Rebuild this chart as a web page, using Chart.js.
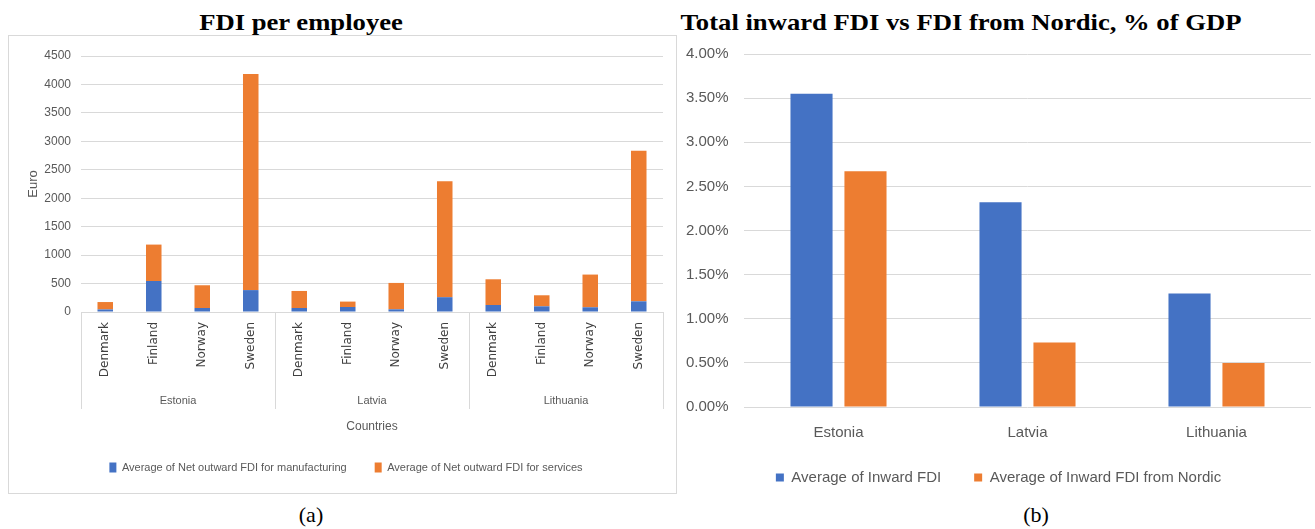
<!DOCTYPE html>
<html>
<head>
<meta charset="utf-8">
<script src="https://cdn.jsdelivr.net/npm/chart.js@4.4.1/dist/chart.umd.min.js"></script>
<style>
    body { margin: 0; background: #fff; width: 1315px; height: 529px; position: relative; overflow: hidden; }
    .titulo { position: absolute; font-family: "Liberation Serif", "Times New Roman", serif; font-weight: bold; font-size: 24px; color: #000; white-space: nowrap; transform: translateX(-50%) scaleX(1.11); }
    .legenda { position: absolute; font-family: "Liberation Serif", "Times New Roman", serif; font-size: 22px; color: #000; transform: translateX(-50%); }
    #boxA { position: absolute; left: 8px; top: 35px; width: 669px; height: 459px; border: 1px solid #d9d9d9; box-sizing: border-box; }
    #boxB { position: absolute; left: 677px; top: 36px; width: 638px; height: 459px; }
</style>
</head>
<body>
<div class="titulo" style="left:301px; top:9px;">FDI per employee</div>
<div class="titulo" style="left:961px; top:9px;">Total inward FDI vs FDI from Nordic, % of GDP</div>

<div id="boxA"><canvas id="fdiEmpregado" width="667" height="457"></canvas></div>
<div id="boxB"><canvas id="fdiNordico" width="638" height="459"></canvas></div>

<div class="legenda" style="left:311px; top:502px;">(a)</div>
<div class="legenda" style="left:1036px; top:502px;">(b)</div>

<script>
// dados do grafico (a)
const paisesDestino = ['Denmark', 'Finland', 'Norway', 'Sweden',
                       'Denmark', 'Finland', 'Norway', 'Sweden',
                       'Denmark', 'Finland', 'Norway', 'Sweden'];
const grupos = ['Estonia', 'Latvia', 'Lithuania'];
const manufatura = [45, 545, 70, 385, 70, 88, 47, 260, 123, 100, 83, 188];
const servicos = [130, 640, 400, 3800, 300, 95, 464, 2040, 452, 194, 575, 2646];
const ticksEuro = [0, 500, 1000, 1500, 2000, 2500, 3000, 3500, 4000, 4500];

// dados do grafico (b)
const paisesBalticos = ['Estonia', 'Latvia', 'Lithuania'];
const inwardTotal = [3.55, 2.32, 1.285];
const inwardNordic = [2.67, 0.73, 0.50];

const AZUL = '#4472C4';
const LARANJA = '#ED7D31';
const CINZA = '#595959';
const GRADE = '#d9d9d9';
const fonte = '"Liberation Sans", Arial, sans-serif';

// linhas verticais que separam os grupos de paises
const separadores = {
    id: 'separadores',
    afterDraw(chart) {
        const x = chart.scales.x;
        const ctx = chart.ctx;
        const topo = chart.chartArea.bottom;
        const fim = topo + 97;
        const passo = (x.right - x.left) / paisesDestino.length;
        ctx.save();
        ctx.strokeStyle = GRADE;
        ctx.lineWidth = 1;
        for (let i = 0; i <= grupos.length; i++) {
            const px = Math.round(x.left + i * 4 * passo) + 0.5;
            ctx.beginPath();
            ctx.moveTo(px, topo);
            ctx.lineTo(px, fim);
            ctx.stroke();
        }
        ctx.restore();
    }
};

new Chart(document.getElementById('fdiEmpregado').getContext('2d'), {
    type: 'bar',
    data: {
        labels: paisesDestino,
        datasets: [{
            label: 'Average of Net outward FDI for manufacturing',
            data: manufatura,
            backgroundColor: AZUL,
            borderWidth: 0
        }, {
            label: 'Average of Net outward FDI for services',
            data: servicos,
            backgroundColor: LARANJA,
            borderWidth: 0
        }]
    },
    options: {
        responsive: false,
        animation: false,
        layout: { padding: { top: 20, right: 13, bottom: 10, left: 20 } },
        datasets: { bar: { barPercentage: 0.32, categoryPercentage: 1 } },
        scales: {
            x: {
                stacked: true,
                weight: 0,
                grid: { display: false, drawTicks: false },
                border: { display: true, color: GRADE },
                ticks: {
                    minRotation: 90, maxRotation: 90, padding: 10, autoSkip: false,
                    color: '#404040',
                    font: { family: '"DejaVu Sans", sans-serif', size: 12 }
                },
                afterFit(axis) { axis.height = 80; }
            },
            x2: {
                type: 'category',
                labels: grupos,
                position: 'bottom',
                weight: 1,
                grid: { display: false, drawTicks: false },
                border: { display: false },
                ticks: { padding: 2, color: CINZA, font: { family: fonte, size: 11 } },
                title: {
                    display: true, text: 'Countries', color: CINZA,
                    padding: { top: 0, bottom: 0 },
                    font: { family: fonte, size: 12 }
                },
                afterFit(axis) { axis.height = 42; }
            },
            y: {
                stacked: true,
                min: 0, max: 4500,
                afterBuildTicks(axis) { axis.ticks = ticksEuro.map(v => ({ value: v })); },
                grid: { color: GRADE, drawTicks: false },
                border: { display: false },
                ticks: {
                    padding: 10, color: CINZA, font: { family: fonte, size: 12 },
                    callback: v => String(v)
                },
                title: {
                    display: true, text: 'Euro', color: CINZA,
                    padding: { top: -3, bottom: 0 },
                    font: { family: fonte, size: 13 }
                },
                afterFit(axis) { axis.width = 52; }
            }
        },
        plugins: {
            legend: {
                position: 'bottom',
                labels: {
                    boxWidth: 7, boxHeight: 10, padding: 28,
                    color: CINZA, font: { family: fonte, size: 11 }
                }
            },
            tooltip: { enabled: false }
        }
    },
    plugins: [separadores]
});

new Chart(document.getElementById('fdiNordico').getContext('2d'), {
    type: 'bar',
    data: {
        labels: paisesBalticos,
        datasets: [{
            label: 'Average of Inward FDI',
            data: inwardTotal,
            backgroundColor: AZUL,
            borderWidth: 0
        }, {
            label: 'Average of Inward FDI from Nordic',
            data: inwardNordic,
            backgroundColor: LARANJA,
            borderWidth: 0
        }]
    },
    options: {
        responsive: false,
        animation: false,
        layout: { padding: { top: 18, right: 4, bottom: 0, left: 9 } },
        datasets: { bar: { barPercentage: 0.78, categoryPercentage: 0.571 } },
        scales: {
            x: {
                grid: { display: false, drawTicks: false },
                border: { display: false },
                ticks: { padding: 17, color: CINZA, font: { family: fonte, size: 15 } },
                afterFit(axis) { axis.height = 30; }
            },
            y: {
                min: 0, max: 4,
                ticks: {
                    stepSize: 0.5, padding: 0, crossAlign: 'far', color: CINZA,
                    font: { family: fonte, size: 15 },
                    callback: v => v.toFixed(2) + '%'
                },
                grid: { color: GRADE, drawTicks: false },
                border: { display: false },
                afterFit(axis) {
                    axis.width = 58;
                    axis.paddingTop = 9;
                    axis.paddingBottom = 9;
                }
            }
        },
        plugins: {
            legend: {
                position: 'bottom',
                labels: {
                    boxWidth: 8, boxHeight: 8, padding: 33,
                    color: CINZA, font: { family: fonte, size: 15 }
                }
            },
            tooltip: { enabled: false }
        }
    }
});
</script>
</body>
</html>
